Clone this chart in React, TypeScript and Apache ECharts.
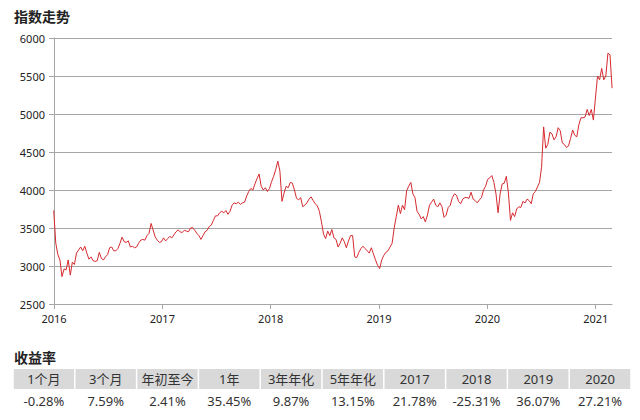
import React, { useEffect, useRef } from "react";
import * as echarts from "echarts";

// Weekly closes, first week = 2015-12-31, step 7 days
const START = "2015-12-31";
const values: number[] = [
  // 2016
  3731, 3300, 3150, 3080, 2860, 2960, 2950, 3080, 2880, 3050, 3020, 3170, 3210,
  3250, 3200, 3260, 3170, 3090, 3120, 3070, 3060, 3070, 3180, 3100, 3080, 3120,
  3150, 3240, 3250, 3200, 3200, 3230, 3300, 3380, 3320, 3310, 3330, 3250, 3260,
  3240, 3250, 3300, 3340, 3350, 3340, 3400, 3430, 3560, 3470, 3380, 3340, 3310, 3320,
  // 2017
  3370, 3330, 3360, 3390, 3370, 3410, 3450, 3475, 3450, 3440, 3470, 3460, 3450,
  3500, 3505, 3470, 3430, 3400, 3350, 3400, 3450, 3470, 3520, 3540, 3600, 3660,
  3660, 3700, 3720, 3700, 3730, 3680, 3720, 3800, 3830, 3820, 3840, 3810, 3830,
  3840, 3920, 3980, 4020, 4000, 4080, 4150, 4210, 4050, 4000, 4030, 3980, 4020,
  // 2018
  4110, 4180, 4270, 4380, 4250, 3850, 3960, 4050, 4030, 4100, 4090, 4000, 3890,
  3870, 3900, 3780, 3800, 3830, 3880, 3910, 3860, 3820, 3790, 3720, 3580, 3420,
  3360, 3460, 3400, 3480, 3370, 3350, 3250, 3300, 3370, 3320, 3240, 3330, 3400,
  3400, 3120, 3110, 3180, 3230, 3260, 3230, 3200, 3170, 3240, 3160, 3080, 3010,
  // 2019
  2965, 3080, 3140, 3180, 3200, 3250, 3300, 3500, 3650, 3800, 3690, 3800, 3740,
  3990, 4050, 4100, 3950, 3900, 3720, 3680, 3620, 3650, 3580, 3670, 3800, 3840,
  3880, 3800, 3780, 3830, 3780, 3640, 3670, 3770, 3800, 3900, 3950, 3930, 3850,
  3820, 3880, 3900, 3900, 3890, 3970, 3880, 3860, 3830, 3870, 3900, 4000, 4050,
  // 2020
  4140, 4160, 4190, 4100, 3950, 3700, 3950, 4080, 4090, 4180, 3960, 3600, 3700,
  3650, 3750, 3780, 3770, 3850, 3830, 3880, 3860, 3820, 3950, 3980, 4040, 4100,
  4300, 4830, 4550, 4600, 4760, 4740, 4660, 4700, 4820, 4780, 4620, 4600, 4560,
  4580, 4680, 4790, 4720, 4700, 4860, 4950, 4950, 4960, 5060, 4980, 5060, 4920, 5210,
  // 2021
  5500, 5450, 5600, 5450, 5500, 5800, 5780, 5340,
];

const yTicksMin = 2500;
const yTicksMax = 6000;
const yInterval = 500;
const xYearMin = 2016;
const xYearMax = 2021.15;

const returnHeaders = ["1个月", "3个月", "年初至今", "1年", "3年年化", "5年年化", "2017", "2018", "2019", "2020"];
const returnValues = ["-0.28%", "7.59%", "2.41%", "35.45%", "9.87%", "13.15%", "21.78%", "-25.31%", "36.07%", "27.21%"];

function toYearFrac(t: number): number {
  const d = new Date(t);
  const y = d.getUTCFullYear();
  const a = Date.UTC(y, 0, 1);
  const b = Date.UTC(y + 1, 0, 1);
  return y + (t - a) / (b - a);
}

export default function App() {
  const ref = useRef<HTMLDivElement>(null);
  useEffect(() => {
    document.body.style.margin = "0";
    if (!ref.current) return;
    const chart = echarts.init(ref.current, undefined, { renderer: "svg" });
    const t0 = Date.parse(START + "T00:00:00Z");
    const data = values.map((v, i) => [toYearFrac(t0 + i * 7 * 86400000), v]);

    const font = "'Noto Sans', 'Noto Sans CJK SC', sans-serif";
    const tableLeft = 13;
    const tableRight = 631;
    const colW = (tableRight - tableLeft) / returnHeaders.length;
    const headTop = 369;
    const headH = 20;
    const graphics: any[] = [
      {
        type: "text",
        left: 14,
        top: 9,
        style: { text: "指数走势", font: `bold 14px ${font}`, fill: "#222" },
      },
      {
        type: "text",
        left: 14,
        top: 350,
        style: { text: "收益率", font: `bold 14px ${font}`, fill: "#222" },
      },
    ];
    returnHeaders.forEach((h, i) => {
      const x = tableLeft + i * colW;
      graphics.push({
        type: "rect",
        shape: { x: x + 0.75, y: headTop, width: colW - 1.5, height: headH },
        style: { fill: "#d9d9d9" },
      });
      graphics.push({
        type: "text",
        x: x + colW / 2,
        y: headTop + headH / 2,
        style: { text: h, font: `13px ${font}`, fill: "#333", align: "center", verticalAlign: "middle" },
      });
      graphics.push({
        type: "text",
        x: x + colW / 2,
        y: 401,
        style: { text: returnValues[i], font: `13px ${font}`, fill: "#333", align: "center", verticalAlign: "middle" },
      });
    });

    chart.setOption({
      animation: false,
      grid: { left: 54, right: 28, top: 38, bottom: 116, containLabel: false },
      xAxis: {
        type: "value",
        min: xYearMin,
        max: xYearMax,
        interval: 1,
        axisLine: { show: true, lineStyle: { color: "#a6a6a6", width: 1 } },
        axisTick: { show: true, length: 5, lineStyle: { color: "#a6a6a6" } },
        splitLine: { show: false },
        axisLabel: {
          color: "#222",
          fontSize: 11,
          fontFamily: font,
          margin: 9,
          showMaxLabel: false,
          formatter: (v: number) => (Number.isInteger(v) ? String(v) : ""),
        },
      },
      yAxis: {
        type: "value",
        min: yTicksMin,
        max: yTicksMax,
        interval: yInterval,
        axisLine: { show: true, lineStyle: { color: "#a6a6a6", width: 1 } },
        axisTick: { show: true, length: 5, lineStyle: { color: "#a6a6a6" } },
        splitLine: { show: true, lineStyle: { color: "#a6a6a6", width: 1 } },
        axisLabel: {
          color: "#222",
          fontSize: 11,
          fontFamily: font,
          margin: 9,
          formatter: (v: number) => String(v),
        },
      },
      series: [
        {
          type: "line",
          data,
          showSymbol: false,
          symbol: "none",
          lineStyle: { color: "#d42a2f", width: 1 },
          z: 3,
        },
      ],
      graphic: graphics,
    });
    return () => chart.dispose();
  }, []);
  return <div ref={ref} style={{ width: 640, height: 420 }} />;
}
